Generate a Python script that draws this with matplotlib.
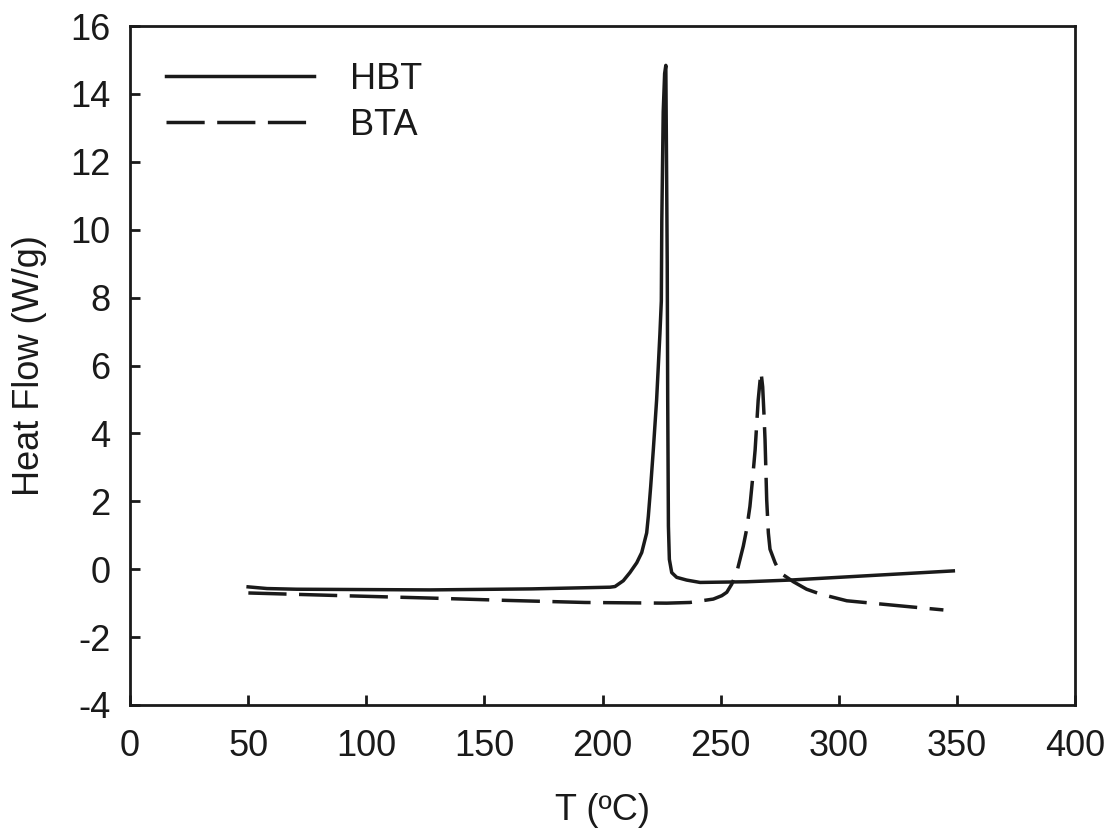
import matplotlib
matplotlib.use('Agg')
import matplotlib.pyplot as plt

# DSC curves
hbt_t = [50, 58, 70.6, 127, 170, 203.2, 205.3, 208.8, 211.6, 214.5, 216.6,
         218.7, 219.4, 220.4, 221.5, 222.9, 223.6, 224.3, 224.9, 225.1,
         225.7, 226.3, 226.8, 227.1, 227.4, 227.6, 227.9, 228.3, 229.3,
         231.4, 235.6, 241.3, 261, 279.4, 348.5]
hbt_q = [-0.52, -0.57, -0.59, -0.61, -0.58, -0.53, -0.51, -0.34, -0.10, 0.19,
         0.49, 1.07, 1.56, 2.44, 3.51, 4.98, 5.95, 6.93, 7.9, 10.25,
         13.47, 14.6, 14.84, 12.0, 9.0, 5.0, 1.27, 0.29, -0.10,
         -0.24, -0.32, -0.39, -0.37, -0.32, -0.05]

bta_t = [50.1, 90, 127, 160, 192.6, 227.2, 237, 246.9, 250.5, 252.6, 254.7,
         256.8, 259.6, 261, 262.4, 263.5, 264.6, 265.9, 266.7, 267.1, 267.8,
         268.4, 268.8, 269.5, 270.2, 270.9, 273, 275.1, 280.8, 286.4, 292.1,
         303.4, 324.5, 344.3]
bta_q = [-0.70, -0.78, -0.85, -0.92, -0.98, -1.0, -0.98, -0.88, -0.78, -0.68,
         -0.44, -0.10, 0.68, 1.17, 1.85, 2.64, 3.51, 4.98, 5.56, 5.81, 5.37,
         4.49, 3.81, 2.05, 1.07, 0.59, 0.20, -0.10, -0.37, -0.59, -0.73,
         -0.93, -1.07, -1.20]

x_ticks = [0, 50, 100, 150, 200, 250, 300, 350, 400]
y_ticks = [-4, -2, 0, 2, 4, 6, 8, 10, 12, 14, 16]

plt.rcParams['font.family'] = ['Liberation Sans', 'DejaVu Sans']
plt.rcParams['axes.unicode_minus'] = False
ink = '#1a1a1a'
fs = 26

fig = plt.figure(figsize=(11.15, 8.4), dpi=100)
ax = fig.add_axes([130 / 1115, 1 - 705 / 840, 945 / 1115, 679 / 840])

ax.plot(hbt_t, hbt_q, color=ink, lw=2.5, label='HBT',
        solid_joinstyle='round')
ax.plot(bta_t, bta_q, color=ink, lw=2.5, dashes=(11, 3.6), label='BTA')

ax.set_xlim(0, 400)
ax.set_ylim(-4, 16)
ax.set_xticks(x_ticks)
ax.set_yticks(y_ticks)
ax.tick_params(direction='in', length=7.2, width=2, color=ink,
               labelsize=fs, labelcolor=ink)
ax.tick_params(axis='x', pad=17)
ax.tick_params(axis='y', pad=14)
for sp in ax.spines.values():
    sp.set_linewidth(2)
    sp.set_color(ink)

ax.set_xlabel('T (ºC)', fontsize=fs, color=ink, labelpad=21)
ax.set_ylabel('Heat Flow (W/g)', fontsize=fs, color=ink, labelpad=17)

leg = ax.legend(loc='upper left', bbox_to_anchor=(0.0, 1.0), frameon=False,
                fontsize=fs, handlelength=4.1, handletextpad=1.0,
                labelspacing=0.3, borderaxespad=0.6)
for txt in leg.get_texts():
    txt.set_color(ink)

fig.savefig('out.png', dpi=100)
